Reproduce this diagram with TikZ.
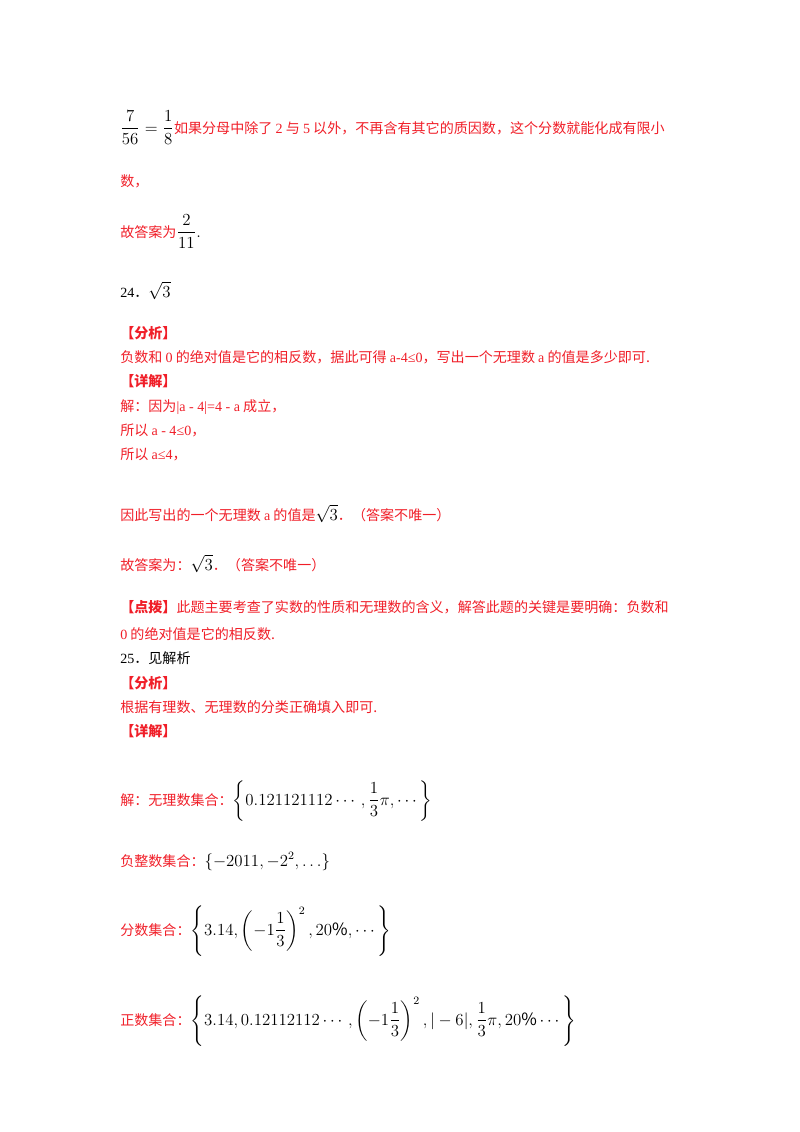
\documentclass[tikz,border=0pt]{standalone}
\usepackage{fontspec}
\setmainfont{Noto Sans CJK SC}
\newfontfamily\lat{Liberation Serif}
\usepackage{amsmath}
\definecolor{ansred}{RGB}{240, 30, 40}
\newcommand{\mth}[1]{{\color{black}\fontsize{12}{14}\selectfont$#1$}}

\begin{document}
\begin{tikzpicture}[x=0.025cm,y=-0.025cm,
  line/.style={anchor=base west, inner sep=0pt, font=\fontsize{10}{12}\selectfont, text=ansred},
  plain/.style={line, text=black}]
\useasboundingbox (0,0) rectangle (800,1132);
% question 23, tail
\node[line] (q23a) at (120,133) {\mth{\dfrac{7}{56}=\dfrac{1}{8}}如果分母中除了 {\lat 2} 与 {\lat 5} 以外，不再含有其它的质因数，这个分数就能化成有限小};
\node[line] (q23b) at (120,186) {数，};
\node[line] (q23c) at (120,237) {故答案为\mth{\dfrac{2}{11}.}};
% question 24
\node[plain] (q24) at (120,297) {{\lat 24}．\mth{\sqrt{3}}};
\node[line, font=\fontsize{10}{12}\selectfont\bfseries] (fx1) at (120,338) {【分析】};
\node[line] (fx1t) at (120,362) {负数和 {\lat 0} 的绝对值是它的相反数，据此可得 {\lat a-4≤0}，写出一个无理数 {\lat a} 的值是多少即可.};
\node[line, font=\fontsize{10}{12}\selectfont\bfseries] (xj1) at (120,386) {【详解】};
\node[line] (xj1a) at (120,411) {解：因为{\lat |a - 4|=4 - a} 成立，};
\node[line] (xj1b) at (120,435) {所以 {\lat a - 4≤0}，};
\node[line] (xj1c) at (120,459) {所以 {\lat a≤4}，};
\node[line] (xj1d) at (120,520) {因此写出的一个无理数 {\lat a} 的值是\mth{\sqrt{3}}．（答案不唯一）};
\node[line] (xj1e) at (120,570) {故答案为：\mth{\sqrt{3}}．（答案不唯一）};
\node[line] (db) at (120,612) {\textbf{【点拨】}此题主要考查了实数的性质和无理数的含义，解答此题的关键是要明确：负数和};
\node[line] (dbb) at (120,639) {{\lat 0} 的绝对值是它的相反数.};
% question 25
\node[plain] (q25) at (120,663) {{\lat 25}．见解析};
\node[line, font=\fontsize{10}{12}\selectfont\bfseries] (fx2) at (120,688) {【分析】};
\node[line] (fx2t) at (120,712) {根据有理数、无理数的分类正确填入即可.};
\node[line, font=\fontsize{10}{12}\selectfont\bfseries] (xj2) at (120,736) {【详解】};
\node[line] (set1) at (120,805) {解：无理数集合：\mth{\left\{0.121121112\cdots,\dfrac{1}{3}\pi,\cdots\right\}}};
\node[line] (set2) at (120,866) {负整数集合：\mth{\left\{-2011,-2^{2},\ldots\right\}}};
\node[line] (set3) at (120,935) {分数集合：\mth{\left\{3.14,\left(-1\dfrac{1}{3}\right)^{2},20\%,\cdots\right\}}};
\node[line] (set4) at (120,1025) {正数集合：\mth{\left\{3.14,0.12112112\cdots,\left(-1\dfrac{1}{3}\right)^{2},|-6|,\dfrac{1}{3}\pi,20\%\cdots\right\}}};
\end{tikzpicture}
\end{document}
